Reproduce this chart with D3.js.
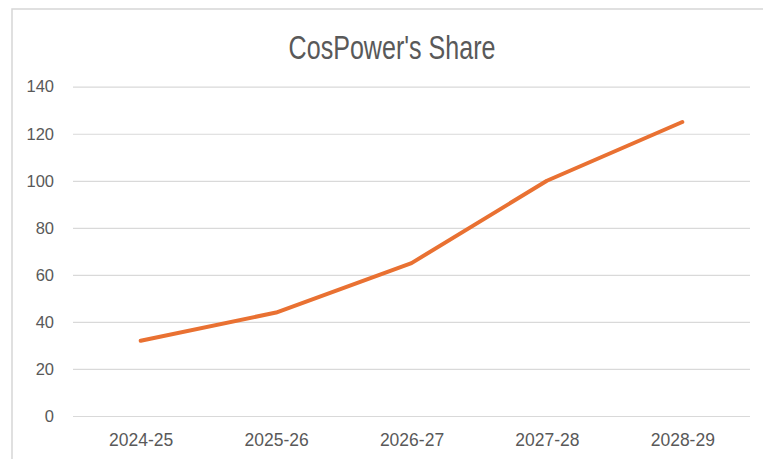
<!DOCTYPE html>
<html>
<head>
<meta charset="utf-8">
<script src="https://cdn.jsdelivr.net/npm/d3@7"></script>
<style>
  html, body { margin: 0; padding: 0; background: #ffffff; }
  svg { display: block; }
</style>
</head>
<body>
<script>
// Chart data
const title = "CosPower's Share";
const categories = ["2024-25", "2025-26", "2026-27", "2027-28", "2028-29"];
const shareValues = [32, 44, 65, 100, 125];
const yTicks = [0, 20, 40, 60, 80, 100, 120, 140];

const W = 763, H = 459;
const plot = { left: 73, right: 750, top: 86.7, bottom: 416 };

const svg = d3.select("body").append("svg")
  .attr("width", W).attr("height", H);

// Chart frame (top and left edges visible)
svg.append("path")
  .attr("d", `M12,${H} L12,9 L${W},9`)
  .attr("fill", "none")
  .attr("stroke", "#d6d6d6")
  .attr("stroke-width", 1.5);

const x = d3.scalePoint()
  .domain(categories)
  .range([plot.left, plot.right])
  .padding(0.5);

const y = d3.scaleLinear()
  .domain([0, 140])
  .range([plot.bottom, plot.top]);

// Horizontal gridlines + value labels
const yAxis = d3.axisLeft(y)
  .tickValues(yTicks)
  .tickSize(-(plot.right - plot.left))
  .tickPadding(19)
  .tickFormat(d3.format("d"));

const yg = svg.append("g")
  .attr("transform", `translate(${plot.left},0)`)
  .call(yAxis);
yg.select(".domain").remove();
yg.selectAll(".tick line")
  .attr("stroke", "#d9d9d9")
  .attr("stroke-width", 1.2);
yg.selectAll(".tick text")
  .attr("fill", "#595959")
  .style("font-family", "'Liberation Sans', Arial, sans-serif")
  .style("font-size", "16.5px");

// Category labels
const xAxis = d3.axisBottom(x).tickSize(0).tickPadding(0);
const xg = svg.append("g")
  .attr("transform", `translate(0,${plot.bottom})`)
  .call(xAxis);
xg.select(".domain").remove();
xg.selectAll(".tick text")
  .attr("dy", null)
  .attr("y", 30)
  .attr("fill", "#595959")
  .style("font-family", "'Liberation Sans', Arial, sans-serif")
  .style("font-size", "17.5px");

// Series line
const line = d3.line()
  .x((d, i) => x(categories[i]))
  .y(d => y(d));

svg.append("path")
  .datum(shareValues)
  .attr("d", line)
  .attr("fill", "none")
  .attr("stroke", "#E97132")
  .attr("stroke-width", 4)
  .attr("stroke-linejoin", "round")
  .attr("stroke-linecap", "round");

// Title (narrow face)
svg.append("text")
  .attr("transform", "translate(392,59) scale(0.76,1)")
  .attr("text-anchor", "middle")
  .attr("fill", "#595959")
  .style("font-family", "'Liberation Sans', Arial, sans-serif")
  .style("font-size", "33px")
  .text(title);
</script>
</body>
</html>
